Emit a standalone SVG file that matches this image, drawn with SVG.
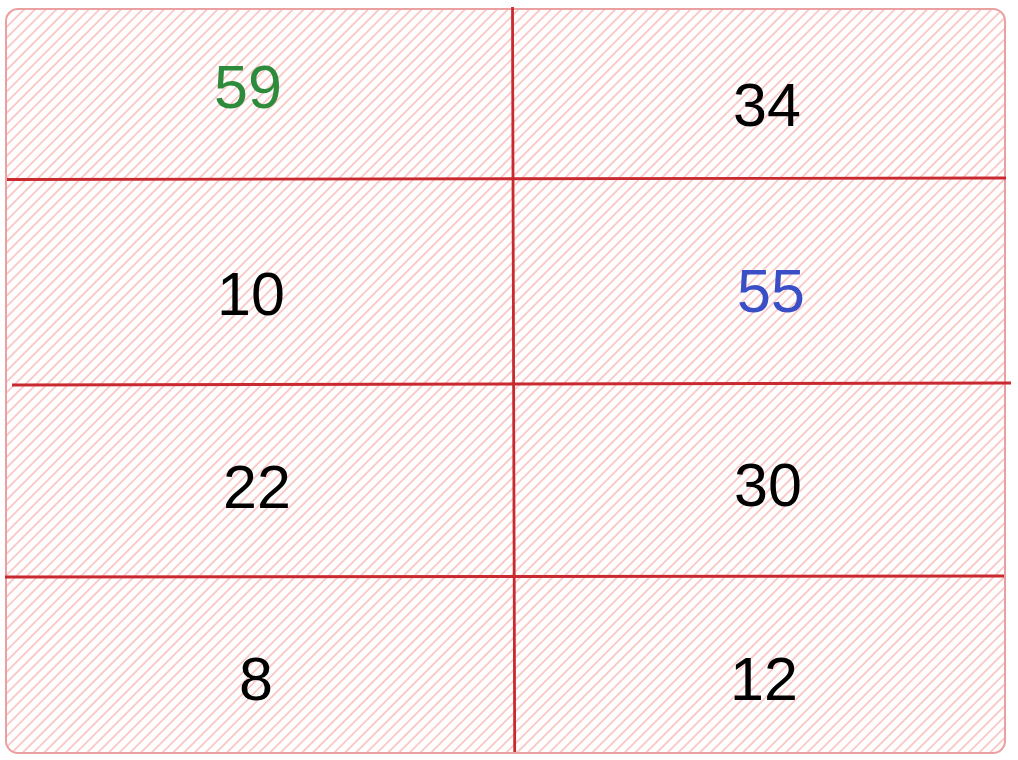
<svg xmlns="http://www.w3.org/2000/svg" width="1018" height="760" viewBox="0 0 1018 760">
  <defs>
    <pattern id="hatch" patternUnits="userSpaceOnUse" width="7.6" height="7.6" patternTransform="rotate(45)">
      <line x1="1" y1="0" x2="1" y2="7.6" stroke="#f8b0b0" stroke-width="1.3"/>
    </pattern>
  </defs>
  <style>
    .grid { stroke: #c92a2f; stroke-width: 2.8; fill: none; }
    .num { font-family: "Liberation Sans", Arial, sans-serif; font-size: 61px; text-anchor: middle; fill: #000000; }
  </style>
  <rect width="1018" height="760" fill="#ffffff"/>
  <g id="table">
    <rect x="6" y="9" width="999" height="744" rx="12" ry="12" fill="url(#hatch)" stroke="#eaa0a0" stroke-width="2"/>
  </g>
  <g id="connectors">
    <line class="grid" x1="512.5" y1="7" x2="514.7" y2="752"/>
    <line class="grid" x1="7" y1="179.5" x2="1006" y2="178"/>
    <line class="grid" x1="12" y1="385" x2="1011" y2="383"/>
    <line class="grid" x1="5" y1="577" x2="1004" y2="576"/>
  </g>
  <g id="cell-59"><text class="num" x="248" y="108" style="fill:#2e8b3c">59</text></g>
  <g id="cell-34"><text class="num" x="767" y="126">34</text></g>
  <g id="cell-10"><text class="num" x="251" y="315">10</text></g>
  <g id="cell-55"><text class="num" x="771" y="312" style="fill:#3a4fc6">55</text></g>
  <g id="cell-22"><text class="num" x="257" y="508">22</text></g>
  <g id="cell-30"><text class="num" x="768" y="506">30</text></g>
  <g id="cell-8"><text class="num" x="256" y="700">8</text></g>
  <g id="cell-12"><text class="num" x="764" y="700">12</text></g>
</svg>
